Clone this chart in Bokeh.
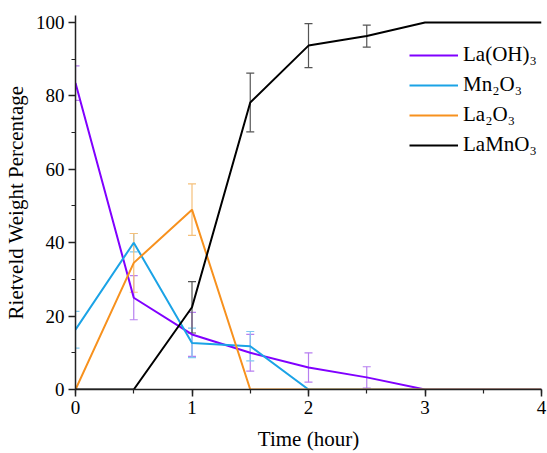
from bokeh.plotting import figure
from bokeh.models import ColumnDataSource, Whisker, TeeHead, SingleIntervalTicker, Legend, LegendItem, Range1d
from bokeh.embed import file_html
from bokeh.resources import INLINE

time = [0, 0.5, 1, 1.5, 2, 2.5, 3, 3.5, 4]
laoh = [83.5, 25, 15, 10, 6, 3.3, 0, 0, 0]
laoh_err = [4.7, 6, 6, 5, 4, 2.9, 0, 0, 0]
mn2o3 = [16.3, 40, 12.7, 11.8, 0, 0, 0, 0, 0]
mn2o3_err = [5, 2.5, 4, 4, 0, 0, 0, 0, 0]
la2o3 = [0, 34.5, 49, 0, 0, 0, 0, 0, 0]
la2o3_err = [0, 8, 7, 0, 0, 0, 0, 0, 0]
lamno3 = [0, 0, 22.4, 78.2, 93.7, 96.3, 100, 100, 100]
lamno3_err = [0, 0, 7, 8, 6, 3, 0, 0, 0]

names = ["La(OH)\u2083", "Mn\u2082O\u2083", "La\u2082O\u2083", "LaMnO\u2083"]
colors = ["#8000ff", "#1ba3e6", "#f7911e", "#000000"]
err_colors = ["#b77ff0", "#7fc9f0", "#f5c07a", "#555555"]

FONT = "Liberation Serif"

p = figure(width=547, height=453, output_backend="svg", toolbar_location=None,
           x_range=Range1d(0, 4), y_range=Range1d(0, 101.9),
           min_border_left=71, min_border_right=6, min_border_top=15, min_border_bottom=64)
p.outline_line_color = None
p.xgrid.visible = False
p.ygrid.visible = False

series = [(laoh, laoh_err), (mn2o3, mn2o3_err), (la2o3, la2o3_err), (lamno3, lamno3_err)]
items = []
for (vals, errs), name, c, ec in zip(series, names, colors, err_colors):
    ex = [t for t, e in zip(time, errs) if e > 0]
    ey = [v for v, e in zip(vals, errs) if e > 0]
    ee = [e for e in errs if e > 0]
    src = ColumnDataSource(dict(x=ex, lo=[v - e for v, e in zip(ey, ee)], hi=[v + e for v, e in zip(ey, ee)]))
    w = Whisker(base="x", lower="lo", upper="hi", source=src, line_color=ec, line_width=1.2,
                upper_head=TeeHead(size=8, line_color=ec, line_width=1.2),
                lower_head=TeeHead(size=8, line_color=ec, line_width=1.2))
    p.add_layout(w)

for (vals, errs), name, c in zip(series, names, colors):
    r = p.line(time, vals, line_color=c, line_width=2)
    items.append(LegendItem(label=name, renderers=[r]))

legend = Legend(items=items, location=(334, 232), border_line_color=None, background_fill_alpha=0,
                glyph_width=49, glyph_height=20, label_standoff=5, spacing=5, padding=0, margin=0,
                label_text_font=FONT, label_text_font_size="21px", label_text_color="#000000")
p.add_layout(legend, "center")

p.xaxis.ticker = SingleIntervalTicker(interval=1, num_minor_ticks=2)
p.yaxis.ticker = SingleIntervalTicker(interval=20, num_minor_ticks=2)
for ax in [p.xaxis[0], p.yaxis[0]]:
    ax.axis_line_width = 1.5
    ax.axis_line_color = "#222222"
    ax.major_tick_line_color = "#222222"
    ax.minor_tick_line_color = "#222222"
    ax.major_tick_line_width = 1.5
    ax.minor_tick_line_width = 1.2
    ax.major_tick_out = 7
    ax.major_tick_in = 0
    ax.minor_tick_out = 4
    ax.minor_tick_in = 0
    ax.major_label_text_font = FONT
    ax.major_label_text_font_size = "19px"
    ax.major_label_text_color = "#000000"
    ax.axis_label_text_font = FONT
    ax.axis_label_text_font_size = "21px"
    ax.axis_label_text_font_style = "normal"
    ax.axis_label_text_color = "#000000"
    ax.major_label_standoff = 4
p.xaxis.axis_label = "Time (hour)"
p.yaxis.axis_label = "Rietveld Weight Percentage"
p.xaxis.axis_label_standoff = 10
p.yaxis.axis_label_standoff = 5

open("out.html", "w").write(file_html(p, INLINE))
